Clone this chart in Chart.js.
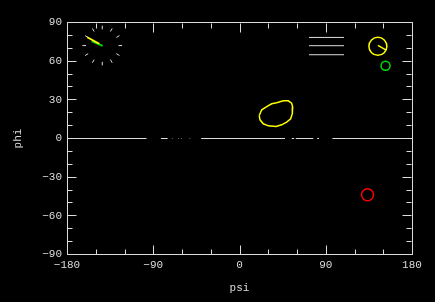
<!DOCTYPE html>
<html>
<head>
<meta charset="utf-8">
<script src="https://cdn.jsdelivr.net/npm/chart.js@4"></script>
<style>
  html, body { margin: 0; padding: 0; background: #000; }
  canvas { display: block; }
</style>
</head>
<body>
<canvas id="rama" width="435" height="302"></canvas>
<script>
// ---- AXIS TICKS ----
const psiLabels = [-180, -90, 0, 90, 180];
const phiLabels = [-90, -60, -30, 0, 30, 60, 90];
const psiMinor = [-150, -120, -60, -30, 30, 60, 120, 150];
const phiMinor = [-80, -70, -50, -40, -20, -10, 10, 20, 40, 50, 70, 80];

// ---- phi = 0 trace (broken segments, psi start/end) ----
const zeroSegments = [
    [-180, -97], [-82, -75], [-72.5, -72], [-70.5, -70], [-63.5, -63],
    [-60.5, -60], [-52, -51.5], [-40, 47.5], [49, 49.5], [54.5, 57],
    [58.7, 77], [78, 78.5], [81, 83], [97, 180]
];

// ---- yellow contour ----
const contourPsi = [20.6, 23.2, 28.4, 33.6, 38.8, 45.7, 50.9, 54.4, 55.5, 55.1, 53.4, 49.2, 44.0, 38.1, 30.1, 24.8, 21.4, 20.6];
const contourPhi = [17.8, 22.3, 24.8, 26.9, 27.7, 29.2, 29.2, 27.4, 24.3, 19.2, 15.3, 12.7, 10.6, 9.3, 9.8, 11.4, 14.5, 17.8];

// ---- circle markers ----
const markerPsi = [144.4, 152.4, 133.6];
const markerPhi = [71.5, 56.4, -43.6];
const markerColor = ['#ffff00', '#00e000', '#ff0000'];
const markerRadius = [9, 4.5, 6];

// ---- dial (clock face) top-left ----
const dialPsi = [-124.4, -126.9, -133.8, -143.2, -152.6, -159.5, -162.0, -159.5, -152.6, -143.2, -133.8, -126.9];
const dialPhi = [72.1, 79.1, 84.2, 86.1, 84.2, 79.1, 72.1, 65.1, 60.0, 58.1, 60.0, 65.1];
const dialAngle = [0, -30, -60, -90, -120, -150, 180, 150, 120, 90, 60, 30];

// ---- short hands ----
const handYellowPsi = [-158.9, -146.3];
const handYellowPhi = [78.6, 73.5];
const handGreenPsi = [-154.3, -142.8];
const handGreenPhi = [75.5, 71.9];
const circleHandPsi = [144.4, 152.6];
const circleHandPhi = [72.2, 68.7];

// ---- three gray bars top-right ----
const barPsi = [72.5, 109];
const barPhi = [78.4, 72, 65];

const GRAY = '#dcdcdc';
const FONT = { family: "'Liberation Mono', 'DejaVu Sans Mono', monospace", size: 11 };

const pts = (xs, ys) => xs.map((x, i) => ({ x: x, y: ys[i] }));
const fmt = v => String(v).replace('-', '\u2212');

const lineSet = (data, color, width) => ({
    type: 'scatter',
    data: data,
    showLine: true,
    borderColor: color,
    borderWidth: width || 1,
    pointRadius: 0,
    fill: false
});

const datasets = [];
zeroSegments.forEach(s => datasets.push(lineSet([{ x: s[0], y: 0 }, { x: s[1], y: 0 }], GRAY)));
datasets.push(lineSet(pts(contourPsi, contourPhi), '#ffff00', 1.5));
barPhi.forEach(p => datasets.push(lineSet([{ x: barPsi[0], y: p }, { x: barPsi[1], y: p }], GRAY)));
datasets.push(lineSet(pts(handYellowPsi, handYellowPhi), '#ffff00', 1.8));
datasets.push(lineSet(pts(handGreenPsi, handGreenPhi), '#00e000', 1.8));
datasets.push(lineSet(pts(circleHandPsi, circleHandPhi), '#ffff00', 1.5));
datasets.push({
    type: 'scatter',
    data: pts(dialPsi, dialPhi),
    pointStyle: 'line',
    pointRadius: 1.8,
    rotation: dialAngle,
    borderColor: GRAY,
    pointBorderColor: GRAY,
    pointBorderWidth: 1
});
datasets.push({
    type: 'scatter',
    data: pts(markerPsi, markerPhi),
    pointStyle: 'circle',
    pointRadius: markerRadius,
    pointBorderColor: markerColor,
    pointBackgroundColor: 'rgba(0,0,0,0)',
    pointBorderWidth: 1.5
});

// inward tick marks on all four sides
const frameTicks = {
    id: 'frameTicks',
    afterDraw(chart) {
        const { ctx, chartArea: a, scales } = chart;
        const L = Math.round(a.left) + 0.5, R = Math.round(a.right) - 0.5;
        const T = Math.round(a.top) + 0.5, B = Math.round(a.bottom) - 0.5;
        ctx.save();
        ctx.strokeStyle = GRAY;
        ctx.lineWidth = 1;
        ctx.beginPath();
        const vx = (v, len) => {
            const px = Math.round(scales.x.getPixelForValue(v)) + 0.5;
            ctx.moveTo(px, B); ctx.lineTo(px, B - len);
            ctx.moveTo(px, T); ctx.lineTo(px, T + len);
        };
        const vy = (v, len) => {
            const py = Math.floor(scales.y.getPixelForValue(v)) + 0.5;
            ctx.moveTo(L, py); ctx.lineTo(L + len, py);
            ctx.moveTo(R, py); ctx.lineTo(R - len, py);
        };
        psiLabels.forEach(v => vx(v, 9));
        psiMinor.forEach(v => vx(v, 5));
        phiLabels.forEach(v => vy(v, 9));
        phiMinor.forEach(v => vy(v, 5));
        ctx.stroke();
        ctx.restore();
    }
};

const noGrid = { display: false, drawTicks: false };
const border = { display: true, color: GRAY, width: 1 };

new Chart(document.getElementById('rama'), {
    type: 'scatter',
    data: { datasets: datasets },
    plugins: [frameTicks],
    options: {
        responsive: false,
        animation: false,
        layout: { padding: 0 },
        plugins: { legend: { display: false }, tooltip: { enabled: false } },
        scales: {
            x: {
                type: 'linear', position: 'bottom', min: -180, max: 180,
                grid: noGrid, border: border,
                afterBuildTicks: s => { s.ticks = psiLabels.map(v => ({ value: v })); },
                afterFit: s => { s.height = 47.5; },
                ticks: { color: GRAY, font: FONT, padding: 4, maxRotation: 0, callback: fmt },
                title: { display: true, text: 'psi', color: GRAY, font: FONT, padding: { top: 0, bottom: 7 } }
            },
            x2: {
                type: 'linear', position: 'top', min: -180, max: 180,
                grid: noGrid, border: border,
                ticks: { display: false },
                afterFit: s => { s.height = 22.5; }
            },
            y: {
                type: 'linear', position: 'left', min: -90, max: 90,
                grid: noGrid, border: border,
                afterBuildTicks: s => { s.ticks = phiLabels.map(v => ({ value: v })); },
                afterFit: s => { s.width = 67; },
                ticks: { color: GRAY, font: FONT, padding: 5, callback: fmt },
                title: { display: true, text: 'phi', color: GRAY, font: FONT, padding: { top: 11, bottom: 0 } }
            },
            y2: {
                type: 'linear', position: 'right', min: -90, max: 90,
                grid: noGrid, border: border,
                ticks: { display: false },
                afterFit: s => { s.width = 23; }
            }
        }
    }
});
</script>
</body>
</html>
